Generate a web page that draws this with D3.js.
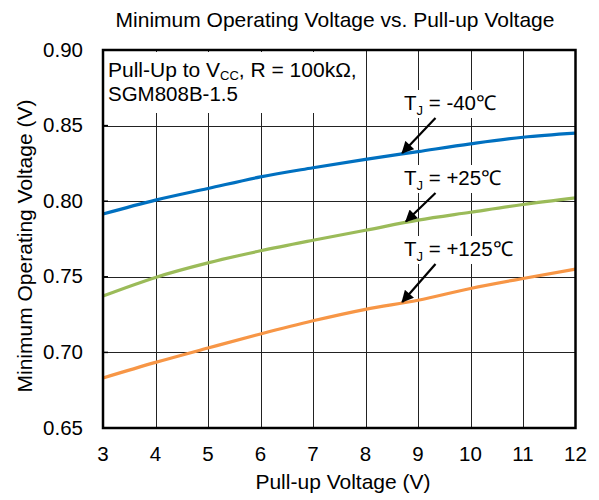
<!DOCTYPE html>
<html>
<head>
<meta charset="utf-8">
<script src="https://cdn.jsdelivr.net/npm/d3@7"></script>
<style>
  html, body { margin: 0; padding: 0; background: #fff; }
  svg { display: block; font-family: "Liberation Sans", Arial, sans-serif; }
</style>
</head>
<body>
<svg id="chart" width="599" height="500"></svg>
<script>
// ---- data ----
const pullUpVoltage = [3, 4, 5, 6, 7, 8, 9, 10, 11, 12];
const tjMinus40 = [0.7915, 0.8007, 0.8084, 0.8161, 0.8221, 0.8277, 0.8328, 0.8379, 0.8423, 0.8450];
const tjPlus25  = [0.7373, 0.7496, 0.7592, 0.7672, 0.7742, 0.7808, 0.7875, 0.7927, 0.7978, 0.8022];
const tjPlus125 = [0.6831, 0.6934, 0.7029, 0.7122, 0.7209, 0.7285, 0.7345, 0.7423, 0.7489, 0.7551];
const xTicks = [3, 4, 5, 6, 7, 8, 9, 10, 11, 12];
const yTicks = [0.65, 0.70, 0.75, 0.80, 0.85, 0.90];
const seriesNames = ["-40℃", "+25℃", "+125℃"];
const seriesColors = ["#0070C0", "#9BBB59", "#F79646"];
// annotation anchor: x value where arrow points on each curve
const arrowAtX = [8.7, 8.77, 8.7];

const svg = d3.select("#chart");
const x = d3.scaleLinear().domain([3, 12]).range([103, 575.5]);
const y = d3.scaleLinear().domain([0.65, 0.90]).range([428, 50]);

// title
svg.append("text").attr("x", 335).attr("y", 26.5).attr("text-anchor", "middle")
  .attr("font-size", 21).attr("fill", "#000")
  .text("Minimum Operating Voltage vs. Pull-up Voltage");

// grid
const grid = svg.append("g");
xTicks.slice(1, -1).forEach(v => {
  const px = Math.round(x(v)) + 0.5;
  grid.append("line").attr("x1", px).attr("x2", px).attr("y1", y(0.90)).attr("y2", y(0.65))
    .attr("stroke", "#222").attr("stroke-width", 1);
});
yTicks.slice(1, -1).forEach(v => {
  const py = Math.round(y(v)) + 0.5;
  grid.append("line").attr("x1", x(3)).attr("x2", x(12)).attr("y1", py).attr("y2", py)
    .attr("stroke", "#222").attr("stroke-width", 1);
});

// note box (white background)
svg.append("rect").attr("x", 104).attr("y", 52).attr("width", 258).attr("height", 61).attr("fill", "#fff");
const note = svg.append("text").attr("x", 108).attr("y", 76.5).attr("font-size", 21).attr("fill", "#000");
note.append("tspan").text("Pull-Up to V");
note.append("tspan").attr("font-size", 13).attr("dy", 3).text("CC");
note.append("tspan").attr("dy", -3).text(", R = 100kΩ,");
svg.append("text").attr("x", 108).attr("y", 100.5).attr("font-size", 20.5).attr("fill", "#000").text("SGM808B-1.5");

// series lines
const allSeries = [tjMinus40, tjPlus25, tjPlus125];
const line = d3.line().x(d => x(d[0])).y(d => y(d[1])).curve(d3.curveMonotoneX);
allSeries.forEach((vals, i) => {
  svg.append("path").datum(pullUpVoltage.map((v, j) => [v, vals[j]]))
    .attr("d", line).attr("fill", "none").attr("stroke", seriesColors[i])
    .attr("stroke-width", 3.2).attr("stroke-linejoin", "round");
});

// annotations
const labelBaselines = [110, 185, 256];
const defs = svg.append("defs");
defs.append("marker").attr("id", "ah").attr("viewBox", "0 0 10 10").attr("refX", 9).attr("refY", 5)
  .attr("markerWidth", 6).attr("markerHeight", 5.5).attr("orient", "auto").attr("markerUnits", "strokeWidth")
  .append("path").attr("d", "M0,0 L10,5 L0,10 Z").attr("fill", "#000");
seriesNames.forEach((name, i) => {
  const bx = 404, by = labelBaselines[i];
  const g = svg.append("g");
  const bg = g.append("rect").attr("fill", "#fff");
  const t = g.append("text").attr("x", bx).attr("y", by).attr("font-size", 20.5).attr("fill", "#000");
  t.append("tspan").text("T");
  t.append("tspan").attr("font-size", 13).attr("dy", 5).text("J");
  t.append("tspan").attr("dy", -5).text(" = " + name);
  const bb = t.node().getBBox();
  bg.attr("x", bb.x - 4).attr("y", by - 20).attr("width", bb.width + 8).attr("height", 28);
  // arrow from under the label to the curve
  const vals = allSeries[i];
  const xa = arrowAtX[i];
  const ya = d3.scaleLinear().domain(pullUpVoltage).range(vals)(xa);
  const tipX = x(xa), tipY = y(ya);
  svg.append("line").attr("x1", 435.5).attr("y1", by + 8).attr("x2", tipX).attr("y2", tipY - 1)
    .attr("stroke", "#000").attr("stroke-width", 2.2).attr("marker-end", "url(#ah)");
});

// frame
svg.append("rect").attr("x", x(3)).attr("y", y(0.90)).attr("width", x(12) - x(3)).attr("height", y(0.65) - y(0.90))
  .attr("fill", "none").attr("stroke", "#000").attr("stroke-width", 2.5);
// inner y ticks
yTicks.forEach(v => {
  svg.append("line").attr("x1", x(3)).attr("x2", x(3) + 5).attr("y1", y(v)).attr("y2", y(v))
    .attr("stroke", "#000").attr("stroke-width", 1.5);
});

// axis tick labels
xTicks.forEach(v => {
  svg.append("text").attr("x", x(v)).attr("y", 461).attr("text-anchor", "middle")
    .attr("font-size", 20.5).attr("fill", "#000").text(d3.format("d")(v));
});
yTicks.forEach(v => {
  svg.append("text").attr("x", 83).attr("y", y(v) + 6.5).attr("text-anchor", "end")
    .attr("font-size", 20.5).attr("fill", "#000").text(d3.format(".2f")(v));
});

// axis titles
svg.append("text").attr("x", 343).attr("y", 489).attr("text-anchor", "middle")
  .attr("font-size", 21).attr("fill", "#000").text("Pull-up Voltage (V)");
svg.append("text").attr("transform", "translate(32,246) rotate(-90)").attr("text-anchor", "middle")
  .attr("font-size", 21).attr("fill", "#000").text("Minimum Operating Voltage (V)");
</script>
</body>
</html>
